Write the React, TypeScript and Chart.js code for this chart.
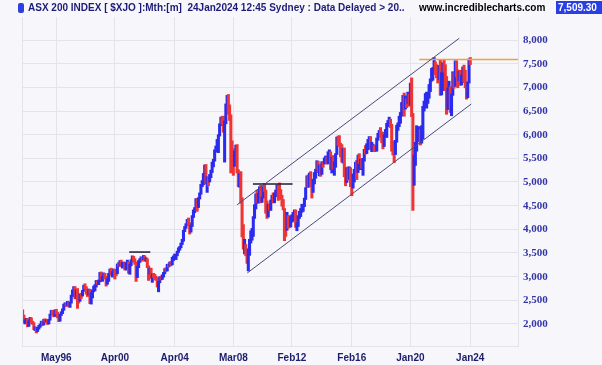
import React, { useEffect, useRef } from 'react';
import { Chart, registerables } from 'chart.js';

Chart.register(...registerables);

// Monthly bars, index 0 = Feb 1994 ... 359 = Jan 2024
const firstOpen = 2280;

const closes = [
  // 1994 (Feb-Dec)
  2160, 2040, 2060, 2100, 1960, 2060, 2120, 2030, 2010, 1900, 1910,
  // 1995
  1860, 1910, 1950, 1980, 2040, 1990, 2090, 2060, 2070, 2010, 2090, 2200,
  // 1996
  2270, 2200, 2180, 2280, 2230, 2150, 2080, 2200, 2240, 2300, 2400, 2420,
  // 1997
  2400, 2450, 2380, 2450, 2600, 2700, 2770, 2560, 2700, 2540, 2500, 2620,
  // 1998
  2600, 2700, 2800, 2780, 2650, 2620, 2720, 2530, 2620, 2700, 2760, 2810,
  // 1999
  2880, 2860, 2910, 3070, 2960, 2980, 3050, 2990, 2880, 2930, 3050, 3150,
  // 2000
  3070, 3070, 3130, 3120, 3080, 3260, 3250, 3330, 3250, 3270, 3280, 3160,
  // 2001
  3290, 3290, 3100, 3250, 3330, 3400, 3360, 3280, 3000, 3200, 3320, 3360,
  // 2002
  3390, 3380, 3430, 3360, 3370, 3210, 3080, 3160, 2980, 3040, 3020, 2980,
  // 2003
  2960, 2830, 2880, 2980, 2960, 3000, 3070, 3160, 3140, 3250, 3230, 3300,
  // 2004
  3260, 3400, 3410, 3450, 3450, 3530, 3600, 3620, 3700, 3760, 3970, 4050,
  // 2005
  4110, 4180, 4110, 3980, 4080, 4280, 4400, 4430, 4640, 4480, 4660, 4760,
  // 2006
  4940, 5000, 5160, 5300, 5050, 5060, 5020, 5140, 5230, 5410, 5460, 5670,
  // 2007
  5740, 5820, 5980, 6220, 6360, 6300, 6150, 6250, 6650, 6780, 6600, 6340,
  // 2008
  5700, 5670, 5350, 5600, 5770, 5220, 4990, 5150, 4630, 3980, 3650, 3660,
  // 2009
  3480, 3300, 3530, 3750, 3810, 3950, 4250, 4480, 4740, 4650, 4720, 4880,
  // 2010
  4600, 4670, 4890, 4810, 4410, 4300, 4480, 4420, 4580, 4700, 4580, 4750,
  // 2011
  4820, 4900, 4850, 4820, 4710, 4610, 4420, 4300, 3980, 4240, 4110, 4060,
  // 2012
  4250, 4290, 4340, 4400, 4080, 4090, 4280, 4320, 4390, 4510, 4510, 4650,
  // 2013
  4880, 5100, 4970, 5190, 4930, 4800, 5050, 5140, 5220, 5430, 5320, 5350,
  // 2014
  5190, 5400, 5390, 5490, 5490, 5400, 5630, 5630, 5290, 5530, 5310, 5410,
  // 2015
  5590, 5930, 5890, 5790, 5780, 5460, 5700, 5210, 5020, 5240, 5170, 5300,
  // 2016
  5010, 4880, 5080, 5250, 5380, 5230, 5560, 5430, 5440, 5320, 5440, 5670,
  // 2017
  5620, 5710, 5860, 5920, 5720, 5720, 5720, 5710, 5680, 5910, 5970, 6070,
  // 2018
  6040, 6020, 5760, 5980, 6010, 6190, 6280, 6320, 6210, 5830, 5670, 5650,
  // 2019
  5860, 6170, 6180, 6330, 6400, 6620, 6810, 6600, 6690, 6660, 6850, 6680,
  // 2020
  7020, 6440, 5080, 5520, 5760, 5900, 5930, 6060, 5820, 5930, 6520, 6590,
  // 2021
  6610, 6670, 6790, 7030, 7160, 7310, 7390, 7530, 7330, 7320, 7260, 7440,
  // 2022
  7010, 7050, 7500, 7430, 7210, 6570, 6950, 6990, 6470, 6860, 7280, 7040,
  // 2023
  7480, 7260, 7180, 7310, 7090, 7200, 7410, 7310, 7050, 6780, 7090, 7590,
  // 2024
  7510,
];

const highs = [
  2300, 2190, 2090, 2120, 2110, 2070, 2140, 2130, 2060, 2030, 1940,
  1930, 1930, 1970, 2000, 2060, 2060, 2100, 2110, 2090, 2080, 2100, 2210,
  2290, 2290, 2230, 2300, 2310, 2250, 2170, 2210, 2260, 2320, 2420, 2450,
  2440, 2480, 2470, 2460, 2610, 2720, 2790, 2790, 2720, 2750, 2580, 2640,
  2650, 2710, 2820, 2850, 2790, 2690, 2740, 2730, 2660, 2720, 2800, 2830,
  2920, 2910, 2930, 3090, 3100, 3010, 3080, 3070, 3010, 2960, 3070, 3160,
  3180, 3110, 3160, 3160, 3150, 3270, 3300, 3340, 3350, 3300, 3310, 3300,
  3300, 3350, 3310, 3260, 3360, 3440, 3430, 3380, 3310, 3220, 3340, 3380,
  3420, 3410, 3450, 3440, 3400, 3380, 3230, 3180, 3180, 3060, 3070, 3050,
  3010, 2980, 2900, 3000, 3010, 3040, 3090, 3170, 3190, 3260, 3270, 3310,
  3320, 3410, 3440, 3480, 3470, 3540, 3610, 3640, 3710, 3790, 3980, 4060,
  4120, 4210, 4240, 4140, 4090, 4290, 4410, 4460, 4650, 4650, 4670, 4770,
  4950, 5030, 5180, 5360, 5370, 5110, 5100, 5160, 5250, 5420, 5480, 5680,
  5760, 5900, 6000, 6230, 6370, 6390, 6390, 6290, 6650, 6830, 6850, 6630,
  6420, 5870, 5700, 5650, 5780, 5790, 5260, 5180, 5220, 4670, 4100, 3790,
  3680, 3560, 3590, 3790, 3970, 4020, 4270, 4520, 4750, 4830, 4760, 4900,
  4930, 4680, 4900, 4970, 4830, 4600, 4530, 4540, 4620, 4720, 4770, 4770,
  4830, 4940, 4920, 4980, 4840, 4720, 4630, 4440, 4350, 4360, 4290, 4290,
  4270, 4310, 4360, 4410, 4410, 4140, 4290, 4380, 4440, 4530, 4530, 4660,
  4880, 5130, 5150, 5190, 5220, 4990, 5060, 5200, 5270, 5450, 5440, 5360,
  5380, 5430, 5430, 5510, 5550, 5530, 5640, 5680, 5640, 5530, 5560, 5430,
  5600, 5950, 5970, 5980, 5820, 5790, 5710, 5720, 5310, 5300, 5320, 5320,
  5300, 5040, 5170, 5270, 5420, 5460, 5570, 5600, 5480, 5500, 5500, 5690,
  5770, 5810, 5900, 5960, 5960, 5840, 5800, 5780, 5760, 5930, 6030, 6090,
  6150, 6060, 6050, 6000, 6110, 6240, 6300, 6370, 6330, 6220, 5870, 5770,
  5880, 6200, 6250, 6390, 6470, 6680, 6830, 6880, 6820, 6760, 6900, 6860,
  7090, 7200, 6450, 5570, 5840, 6190, 6110, 6170, 6110, 6190, 6600, 6710,
  6870, 6900, 6860, 7060, 7180, 7400, 7420, 7630, 7540, 7480, 7460, 7460,
  7590, 7310, 7520, 7590, 7480, 7230, 6990, 7130, 7010, 6860, 7330, 7310,
  7560, 7560, 7370, 7340, 7360, 7260, 7430, 7470, 7360, 7120, 7110, 7600,
  7630,
];

const lows = [
  2140, 2020, 2000, 2030, 1940, 1950, 2040, 2010, 1990, 1880, 1860,
  1810, 1840, 1890, 1930, 1960, 1970, 1980, 2040, 2040, 1990, 2000, 2080,
  2190, 2180, 2150, 2160, 2210, 2130, 2050, 2060, 2180, 2220, 2290, 2370,
  2370, 2390, 2360, 2350, 2440, 2580, 2680, 2530, 2540, 2330, 2440, 2480,
  2540, 2590, 2690, 2740, 2630, 2580, 2610, 2430, 2420, 2550, 2680, 2700,
  2780, 2840, 2830, 2890, 2930, 2900, 2960, 2950, 2800, 2840, 2900, 3030,
  3040, 2990, 3000, 2950, 3020, 3060, 3220, 3220, 3220, 3180, 3230, 3140,
  3140, 3240, 3070, 3050, 3230, 3310, 3320, 3260, 2900, 2980, 3190, 3300,
  3330, 3330, 3360, 3330, 3320, 3190, 2920, 3060, 2960, 2880, 2980, 2940,
  2920, 2780, 2680, 2870, 2930, 2940, 2990, 3060, 3110, 3120, 3200, 3220,
  3230, 3250, 3340, 3390, 3360, 3440, 3510, 3560, 3610, 3680, 3750, 3950,
  4020, 4080, 4080, 3900, 3940, 4060, 4250, 4350, 4420, 4380, 4460, 4640,
  4740, 4900, 4940, 5130, 4960, 4780, 4920, 5000, 5090, 5200, 5320, 5440,
  5630, 5700, 5620, 5970, 6190, 6220, 6050, 5420, 6230, 6560, 6430, 6300,
  5190, 5460, 5140, 5330, 5550, 5190, 4900, 4890, 4550, 3840, 3580, 3480,
  3440, 3280, 3120, 3450, 3710, 3770, 3850, 4230, 4430, 4560, 4550, 4670,
  4560, 4570, 4660, 4800, 4340, 4230, 4260, 4400, 4400, 4560, 4560, 4560,
  4690, 4800, 4610, 4800, 4630, 4490, 4410, 3760, 3850, 3980, 4020, 4040,
  4050, 4150, 4170, 4310, 4040, 3970, 4060, 4230, 4270, 4360, 4380, 4480,
  4630, 4880, 4880, 4900, 4900, 4660, 4780, 4960, 5080, 5200, 5210, 5130,
  5120, 5160, 5310, 5380, 5420, 5380, 5380, 5510, 5260, 5190, 5270, 5140,
  5310, 5580, 5770, 5750, 5530, 5420, 5400, 5110, 4920, 4990, 5040, 5060,
  4900, 4710, 4870, 5000, 5170, 5050, 5200, 5390, 5260, 5290, 5140, 5440,
  5590, 5600, 5680, 5820, 5690, 5640, 5650, 5640, 5650, 5650, 5880, 5950,
  5950, 5830, 5700, 5750, 5960, 5940, 6170, 6170, 6150, 5650, 5570, 5410,
  5580, 5840, 6090, 6170, 6240, 6390, 6580, 6390, 6540, 6570, 6650, 6600,
  6620, 6380, 4400, 4930, 5350, 5650, 5850, 5900, 5780, 5820, 5910, 6500,
  6580, 6560, 6660, 6770, 6910, 7130, 7150, 7370, 7270, 7200, 7090, 7160,
  6830, 6840, 6930, 7320, 6930, 6430, 6530, 6880, 6470, 6400, 6830, 6980,
  7020, 7220, 6990, 7140, 7040, 7050, 7100, 7110, 6990, 6750, 6780, 7090,
  7480,
];

const xTickMonths = [27, 74, 122, 169, 216, 264, 311, 359];
const xTickLabels = ['May96', 'Apr00', 'Apr04', 'Mar08', 'Feb12', 'Feb16', 'Jan20', 'Jan24'];
const yTickValues = [2000, 2500, 3000, 3500, 4000, 4500, 5000, 5500, 6000, 6500, 7000, 7500, 8000];

// drawn trend lines (month index, index value)
const channelUpper = [{ x: 172.1, y: 4520 }, { x: 350.2, y: 8037 }];
const channelLower = [{ x: 180.2, y: 3078 }, { x: 359.8, y: 6648 }];
const resistance2000 = [{ x: 85.5, y: 3520 }, { x: 102.4, y: 3520 }];
const resistance2010 = [{ x: 184.7, y: 4960 }, { x: 216.5, y: 4960 }];
const resistanceNow = [{ x: 318.1, y: 7590 }, { x: 397.3, y: 7590 }];

const headerText = 'ASX 200 INDEX [ $XJO ]:Mth:[m]  24Jan2024 12:45 Sydney : Data Delayed > 20..';
const siteText = 'www.incrediblecharts.com';
const lastValue = '7,509.30';

const UP = '#2b2bf0';
const DOWN = '#ee3535';
const GRID = '#e3e3ec';

export default function App() {
  const ref = useRef<HTMLCanvasElement | null>(null);

  useEffect(() => {
    if (!ref.current) return;
    const barData = closes.map((c, i) => ({ x: i, y: [lows[i], highs[i]] }));
    const colors = closes.map((c, i) => {
      const o = i === 0 ? firstOpen : closes[i - 1];
      return c >= o ? UP : DOWN;
    });
    const lineDs = (data: any[], color: string, width: number) => ({
      type: 'line' as const,
      data,
      borderColor: color,
      borderWidth: width,
      pointRadius: 0,
      fill: false,
      order: 1,
    });

    const frame = {
      id: 'frame',
      beforeDraw(chart: any) {
        const { ctx, chartArea } = chart;
        ctx.save();
        ctx.fillStyle = '#f7f7fb';
        ctx.fillRect(0, 0, chart.width, chart.height);
        ctx.restore();
      },
      afterDatasetsDraw(chart: any) {
        const { ctx, chartArea } = chart;
        ctx.save();
        ctx.strokeStyle = GRID;
        ctx.lineWidth = 1;
        ctx.beginPath();
        ctx.moveTo(Math.round(chartArea.left) + 0.5, chartArea.top);
        ctx.lineTo(Math.round(chartArea.left) + 0.5, chartArea.bottom);
        ctx.stroke();
        ctx.restore();
      },
    };

    const chart = new Chart(ref.current, {
      type: 'bar',
      data: {
        datasets: [
          {
            type: 'bar',
            data: barData as any,
            backgroundColor: colors,
            borderWidth: 0,
            barThickness: 2.4,
            order: 2,
          } as any,
          lineDs(channelUpper, '#4a4a78', 1),
          lineDs(channelLower, '#4a4a78', 1),
          lineDs(resistance2000, '#1c1c3c', 1.5),
          lineDs(resistance2010, '#1c1c3c', 1.5),
          lineDs(resistanceNow, '#f2a03a', 1.5),
        ],
      },
      options: {
        animation: false,
        responsive: false,
        devicePixelRatio: 1,
        layout: { padding: { left: 22, top: 17, right: 0, bottom: 0 } },
        plugins: { legend: { display: false }, tooltip: { enabled: false } },
        scales: {
          x: {
            type: 'linear',
            min: -0.5,
            max: 397.3,
            offset: false,
            grid: { color: GRID, drawTicks: false, offset: false },
            border: { display: true, color: GRID },
            afterBuildTicks: (scale: any) => {
              scale.ticks = xTickMonths.map((v) => ({ value: v }));
            },
            afterFit: (scale: any) => {
              scale.height = 19;
            },
            ticks: {
              autoSkip: false,
              maxRotation: 0,
              padding: 6,
              color: '#1c1c6c',
              font: { family: '"Liberation Sans", Arial, sans-serif', size: 10, weight: 'bold' },
              callback: (v: any) => {
                const k = xTickMonths.indexOf(Number(v));
                return k >= 0 ? xTickLabels[k] : '';
              },
            },
          },
          y: {
            type: 'linear',
            position: 'right',
            min: 1535,
            max: 8486,
            grid: { color: GRID, drawTicks: false },
            border: { display: true, color: GRID },
            afterBuildTicks: (scale: any) => {
              scale.ticks = yTickValues.map((v) => ({ value: v }));
            },
            afterFit: (scale: any) => {
              scale.width = 84;
            },
            ticks: {
              padding: 5,
              color: '#3434a8',
              font: { family: '"Liberation Serif", "Times New Roman", serif', size: 11, weight: 'bold' },
              callback: (v: any) => Number(v).toLocaleString('en-US'),
            },
          },
        },
      },
      plugins: [frame],
    } as any);

    return () => chart.destroy();
  }, []);

  const font = '"Liberation Sans", Arial, sans-serif';
  return (
    <div style={{ position: 'fixed', left: 0, top: 0, width: 602, height: 365, background: '#f7f7fb', overflow: 'hidden' }}>
      <canvas ref={ref} width={602} height={365} style={{ position: 'absolute', left: 0, top: 0, width: 602, height: 365 }} />
      <div style={{ position: 'absolute', left: 18, top: 3, width: 6, height: 10, borderRadius: 2, background: '#3040e0' }} />
      <div style={{ position: 'absolute', left: 28, top: 1, font: `bold 10px ${font}`, color: '#1c1c78', whiteSpace: 'pre', lineHeight: '13px' }}>
        {headerText}
      </div>
      <div style={{ position: 'absolute', left: 419, top: 1, font: `bold 10px ${font}`, color: '#000000', whiteSpace: 'pre', lineHeight: '13px' }}>
        {siteText}
      </div>
      <div style={{ position: 'absolute', left: 556, top: 1, width: 46, height: 13, background: '#2a3ee6', color: '#ffffff', font: `bold 10px ${font}`, lineHeight: '13px', paddingLeft: 2, boxSizing: 'border-box', whiteSpace: 'pre' }}>
        {lastValue}
      </div>
    </div>
  );
}
